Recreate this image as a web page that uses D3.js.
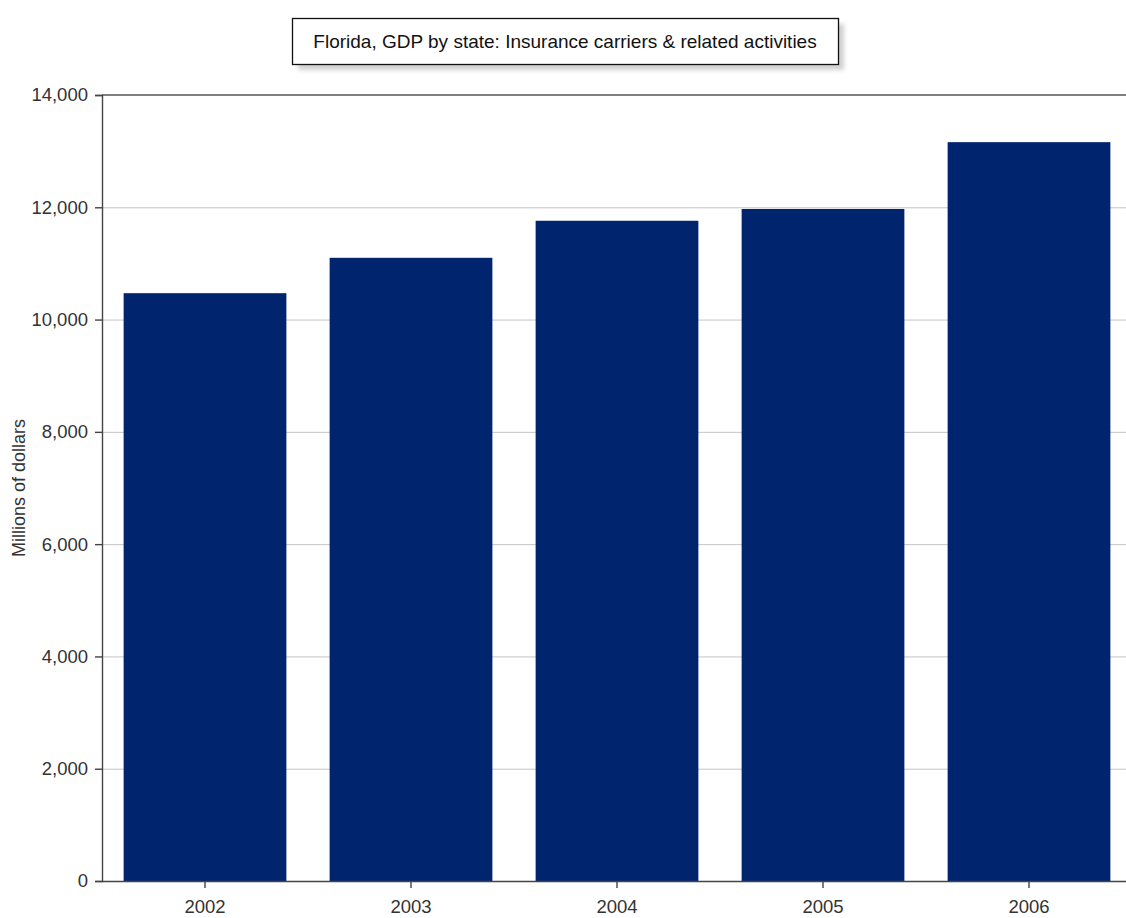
<!DOCTYPE html>
<html lang="en">
  <head>
    <meta charset="utf-8">
    <title>Florida, GDP by state: Insurance carriers & related activities</title>
    <script src="https://d3js.org/d3.v7.min.js" charset="utf-8"></script>
    <style>
      html, body { margin: 0; padding: 0; background: #fff; }
      text { font-family: "Liberation Sans", Arial, sans-serif; fill: #333; }
    </style>
  </head>
  <body>
    <div id="dataviz"></div>
  <script type="text/javascript">
    var chartTitle = "Florida, GDP by state: Insurance carriers & related activities";
    var yLabel = "Millions of dollars";
    var years = ["2002", "2003", "2004", "2005", "2006"];
    var gdp = [10470, 11100, 11760, 11970, 13160];
    var yTicks = [0, 2000, 4000, 6000, 8000, 10000, 12000, 14000];

    var W = 1126, H = 918;
    var margin = {top: 95, left: 102, bottom: 37};
    var plotBottom = H - margin.bottom,
        plotRight = 1132;

    var svg = d3.select("#dataviz")
      .append("svg")
        .attr("width", W)
        .attr("height", H);

    var defs = svg.append("defs");
    defs.append("filter")
        .attr("id", "blur")
      .append("feGaussianBlur")
        .attr("stdDeviation", 2);

    var x = d3.scaleBand()
        .domain(years)
        .range([margin.left, plotRight])
        .paddingInner(0.21)
        .paddingOuter(0.105);

    var y = d3.scaleLinear()
        .domain([0, 14000])
        .range([plotBottom, margin.top]);

    // gridlines
    svg.append("g")
      .selectAll("line")
      .data(yTicks.slice(1, -1))
      .enter()
      .append("line")
        .attr("x1", margin.left)
        .attr("x2", W)
        .attr("y1", function(d) { return y(d) + 0.5; })
        .attr("y2", function(d) { return y(d) + 0.5; })
        .attr("stroke", "#c4c4c4")
        .attr("stroke-width", 1);

    // top border
    svg.append("line")
      .attr("x1", margin.left)
      .attr("x2", W)
      .attr("y1", y(14000))
      .attr("y2", y(14000))
      .attr("stroke", "#555")
      .attr("stroke-width", 1.6);

    // bars
    svg.selectAll(".bar")
      .data(gdp)
      .enter()
      .append("rect")
        .attr("class", "bar")
        .attr("x", function(d, i) { return x(years[i]); })
        .attr("y", function(d) { return y(d); })
        .attr("width", x.bandwidth())
        .attr("height", function(d) { return plotBottom - y(d); })
        .attr("fill", "#01246f");

    var yAxis = svg.append("g")
        .attr("transform", "translate(" + margin.left + ",0)")
        .call(d3.axisLeft(y)
          .tickValues(yTicks)
          .tickSize(7)
          .tickPadding(7)
          .tickFormat(d3.format(",")));

    var xAxis = svg.append("g")
        .attr("transform", "translate(0," + plotBottom + ")")
        .call(d3.axisBottom(x)
          .tickSize(7)
          .tickPadding(12)
          .tickSizeOuter(0));

    xAxis.select(".domain").attr("d", "M" + margin.left + ",0.5H" + W);

    [xAxis, yAxis].forEach(function(a) {
      a.selectAll(".domain").attr("stroke", "#444").attr("stroke-width", 1.4);
      a.selectAll(".tick line").attr("stroke", "#444").attr("stroke-width", 1.4);
      a.selectAll(".tick text")
        .attr("fill", "#333")
        .style("font-size", "18.5px")
        .style("font-family", "'Liberation Sans', Arial, sans-serif");
    });

    svg.append("text")
      .attr("transform", "translate(25," + ((margin.top + plotBottom) / 2) + ") rotate(-90)")
      .attr("text-anchor", "middle")
      .style("font-size", "18px")
      .text(yLabel);

    // title box
    var box = {x: 292, y: 18, w: 546, h: 46};
    svg.append("rect")
      .attr("x", box.x + 6)
      .attr("y", box.y + 6)
      .attr("width", box.w)
      .attr("height", box.h)
      .attr("fill", "#d0d0d0")
      .attr("filter", "url(#blur)");
    svg.append("rect")
      .attr("x", box.x + 0.5)
      .attr("y", box.y + 0.5)
      .attr("width", box.w)
      .attr("height", box.h)
      .attr("fill", "#fff")
      .attr("stroke", "#111")
      .attr("stroke-width", 1.3);
    svg.append("text")
      .attr("x", box.x + box.w / 2)
      .attr("y", box.y + 30)
      .attr("text-anchor", "middle")
      .style("font-size", "19px")
      .style("fill", "#111")
      .text(chartTitle);
  </script>
  </body>
</html>
